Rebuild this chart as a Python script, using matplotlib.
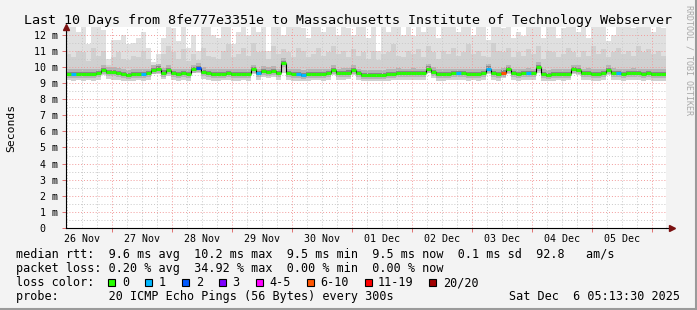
import numpy as np
import matplotlib
matplotlib.use("Agg")
import matplotlib.pyplot as plt
from matplotlib.patches import Rectangle

# ---------------- data ----------------
# 2-hour bins, first bin starts at 05:36 on 26 Nov (hours since 26 Nov 00:00)
bin_start = 5.6
bin_hours = 2.0

median_rtt = [
    9.57, 9.57, 9.55, 9.57, 9.55, 9.57, 9.60, 9.80, 9.70, 9.68,
    9.63, 9.57, 9.52, 9.55, 9.57, 9.55, 9.60, 9.80, 9.90, 9.65,
    9.80, 9.60, 9.55, 9.60, 9.57, 9.85, 9.95, 9.70, 9.60, 9.57,
    9.55, 9.57, 9.60, 9.57, 9.55, 9.57, 9.55, 9.85, 9.60, 9.75,
    9.70, 9.75, 9.60, 10.25, 9.60, 9.57, 9.55, 9.52, 9.55, 9.57,
    9.57, 9.55, 9.60, 9.80, 9.60, 9.63, 9.65, 9.80, 9.60, 9.50,
    9.50, 9.52, 9.50, 9.52, 9.55, 9.57, 9.63, 9.60, 9.60, 9.63,
    9.60, 9.60, 9.90, 9.70, 9.57, 9.55, 9.57, 9.60, 9.60, 9.60,
    9.55, 9.57, 9.55, 9.60, 9.90, 9.60, 9.57, 9.65, 9.85, 9.60,
    9.57, 9.60, 9.63, 9.60, 10.00, 9.55, 9.50, 9.55, 9.57, 9.55,
    9.57, 9.85, 9.80, 9.60, 9.63, 9.57, 9.55, 9.60, 9.80, 9.63,
    9.60, 9.57, 9.60, 9.63, 9.60, 9.57, 9.60, 9.57, 9.55, 9.55,
]

smoke_top = [
    12.6, 12.6, 12.2, 12.6, 11.4, 12.6, 12.6, 12.3, 10.5, 11.7,
    11.7, 12.0, 11.4, 11.5, 11.8, 12.2, 11.2, 10.3, 10.8, 11.8,
    12.6, 12.4, 11.6, 12.6, 11.2, 12.0, 11.0, 12.6, 12.6, 12.0,
    11.8, 12.6, 12.6, 11.4, 12.2, 12.6, 12.0, 12.6, 12.2, 12.6,
    11.0, 12.6, 12.6, 12.0, 12.6, 12.6, 12.6, 12.4, 11.8, 12.6,
    12.6, 12.2, 12.6, 12.6, 12.0, 12.6, 12.4, 12.0, 12.6, 12.6,
    11.8, 12.6, 11.0, 12.6, 12.2, 12.6, 12.6, 12.0, 12.6, 11.9,
    12.6, 12.2, 12.6, 12.6, 11.8, 12.6, 12.6, 12.6, 12.2, 12.6,
    12.6, 12.0, 12.6, 12.6, 11.7, 12.6, 12.6, 12.4, 12.6, 11.8,
    12.2, 11.9, 12.6, 12.6, 12.6, 11.8, 12.6, 12.6, 11.8, 12.4,
    12.6, 12.6, 12.2, 12.6, 11.8, 12.6, 12.6, 12.6, 11.6, 12.0,
    12.6, 12.6, 12.6, 12.4, 12.6, 12.6, 12.6, 12.2, 12.6, 12.4,
]

smoke_mid = [
    10.8, 10.6, 11.0, 10.9, 10.4, 11.2, 10.7, 11.0, 10.1, 10.6,
    10.9, 10.5, 10.4, 10.7, 10.6, 11.0, 10.5, 10.1, 10.2, 10.8,
    11.3, 10.9, 10.5, 11.1, 10.4, 10.8, 10.4, 11.2, 10.7, 10.6,
    10.5, 11.0, 11.4, 10.6, 10.8, 11.2, 10.7, 11.5, 10.9, 11.0,
    10.5, 11.3, 10.8, 11.1, 10.9, 10.6, 11.2, 11.0, 10.6, 10.8,
    11.2, 10.7, 10.9, 11.3, 10.8, 11.0, 10.6, 11.1, 10.7, 10.9,
    10.5, 11.0, 10.4, 10.8, 10.9, 11.4, 10.7, 10.6, 11.0, 10.8,
    11.1, 10.6, 11.3, 10.9, 10.5, 11.0, 10.8, 11.2, 10.7, 10.9,
    11.4, 10.8, 11.0, 10.7, 10.6, 11.5, 11.0, 10.9, 11.2, 10.6,
    10.9, 10.7, 11.1, 10.8, 11.3, 10.5, 11.0, 10.9, 10.6, 10.8,
    11.2, 10.9, 10.6, 11.0, 10.7, 11.3, 10.8, 11.1, 10.6, 10.9,
    11.2, 10.8, 11.0, 10.7, 11.3, 10.9, 11.1, 10.8, 11.0, 10.7,
]

smoke_low = [
    9.20, 9.15, 9.20, 9.15, 9.20, 9.15, 9.20, 9.50, 9.25, 9.20,
    9.20, 9.15, 9.10, 9.15, 9.20, 9.15, 9.20, 9.55, 9.55, 9.25,
    9.45, 9.20, 9.15, 9.20, 9.15, 9.60, 9.60, 9.25, 9.20, 9.15,
    9.15, 9.20, 9.20, 9.15, 9.15, 9.20, 9.15, 9.55, 9.20, 9.35,
    9.30, 9.35, 9.20, 9.60, 9.20, 9.15, 9.15, 9.10, 9.15, 9.20,
    9.20, 9.15, 9.20, 9.50, 9.20, 9.20, 9.25, 9.50, 9.20, 9.10,
    9.10, 9.10, 9.10, 9.15, 9.15, 9.20, 9.20, 9.20, 9.20, 9.20,
    9.20, 9.20, 9.60, 9.30, 9.15, 9.15, 9.20, 9.20, 9.20, 9.20,
    9.15, 9.20, 9.15, 9.20, 9.55, 9.20, 9.15, 9.30, 9.55, 9.20,
    9.15, 9.20, 9.20, 9.20, 9.60, 9.15, 9.10, 9.15, 9.20, 9.15,
    9.20, 9.55, 9.50, 9.20, 9.20, 9.15, 9.15, 9.20, 9.50, 9.20,
    9.20, 9.15, 9.20, 9.20, 9.20, 9.15, 9.20, 9.15, 9.15, 9.15,
]

# bins where some pings were lost (index -> lost pings of 20)
loss_bins = [1, 15, 26, 38, 46, 47, 78, 84, 87, 92, 110]
loss_counts = [1, 1, 2, 1, 1, 1, 1, 1, 6, 1, 1]

loss_labels = ["0", "1", "2", "3", "4-5", "6-10", "11-19", "20/20"]
loss_colors = ["#26ff00", "#00b8ff", "#0059ff", "#7e00ff",
               "#ff00ff", "#ff5500", "#ff0000", "#a10000"]

day_labels = ["26 Nov", "27 Nov", "28 Nov", "29 Nov", "30 Nov",
              "01 Dec", "02 Dec", "03 Dec", "04 Dec", "05 Dec"]

title = "Last 10 Days from 8fe777e3351e to Massachusetts Institute of Technology Webserver"
line_rtt = "median rtt:  9.6 ms avg  10.2 ms max  9.5 ms min  9.5 ms now  0.1 ms sd  92.8   am/s"
line_loss = "packet loss: 0.20 % avg  34.92 % max  0.00 % min  0.00 % now"
line_probe = "probe:       20 ICMP Echo Pings (56 Bytes) every 300s"
stamp = "Sat Dec  6 05:13:30 2025"

# ---------------- config ----------------
W, H = 697, 310
MONO = "DejaVu Sans Mono"
BG = "#f3f3f3"
FS_LEGEND = 8.45
plt.rcParams["font.family"] = [MONO]


def fx(x):
    return x / W


def fy(y):
    return 1 - y / H


def loss_color(n):
    if n == 0:
        return loss_colors[0]
    if n <= 3:
        return loss_colors[n]
    if n <= 5:
        return loss_colors[4]
    if n <= 10:
        return loss_colors[5]
    if n <= 19:
        return loss_colors[6]
    return loss_colors[7]


fig = plt.figure(figsize=(W / 100, H / 100), dpi=100, facecolor=BG)
ax = fig.add_axes([fx(66), fy(228), fx(600), 201 / H])
ax.set_facecolor("white")

n = len(median_rtt)
left = bin_start + bin_hours * np.arange(n)
med = np.array(median_rtt)
top = np.array(smoke_top)
mid = np.array(smoke_mid)
low = np.array(smoke_low)

# smoke layers, outer -> inner
ax.bar(left, top - low, bottom=low, width=bin_hours, align="edge",
       color="#e0e0e0", linewidth=0, zorder=1)
ax.bar(left, mid - low, bottom=low, width=bin_hours, align="edge",
       color="#d0d0d0", linewidth=0, zorder=1.1)
ax.bar(left, 0.55, bottom=med - 0.25, width=bin_hours, align="edge",
       color="#b4b4b4", linewidth=0, zorder=1.2)
ax.bar(left, 0.25, bottom=med - 0.12, width=bin_hours, align="edge",
       color="#888888", linewidth=0, zorder=1.3)

# grid
for v in np.arange(0.5, 12.5, 1.0):
    ax.axhline(v, color="#c8c8c8", lw=0.7, ls=(0, (1, 2)), zorder=2)
for v in range(1, 13):
    ax.axhline(v, color="#f29a9a", lw=0.7, ls=(0, (1, 2)), zorder=2.1)
for h in np.arange(6, 246, 6):
    if h % 24:
        ax.axvline(h, color="#c8c8c8", lw=0.7, ls=(0, (1, 2)), zorder=2)
for d in range(1, 11):
    ax.axvline(24 * d, color="#f29a9a", lw=0.7, ls=(0, (1, 2)), zorder=2.1)

# median line coloured by loss
colors = [loss_colors[0]] * n
for b, c in zip(loss_bins, loss_counts):
    colors[b] = loss_color(c)
ax.vlines(left[1:], med[:-1], med[1:], color="black", lw=0.8, zorder=3)
ax.hlines(med, left, left + bin_hours, colors=colors, lw=2.2, zorder=4)

ax.set_xlim(bin_start, bin_start + bin_hours * n)
ax.set_ylim(0, 12.48)

for s in ["top", "right"]:
    ax.spines[s].set_visible(False)
for s in ["left", "bottom"]:
    ax.spines[s].set_color("black")
    ax.spines[s].set_linewidth(0.8)
    ax.spines[s].set_zorder(5)

ax.set_yticks(range(0, 13))
ax.set_yticklabels(["0  "] + [f"{v} m" for v in range(1, 13)])
ax.tick_params(axis="y", length=3, width=0.7, color="#e07070", pad=2.7,
               labelsize=7.2, labelcolor="black")
ax.set_xticks([24 * d for d in range(1, 11)])
ax.set_xticklabels([])
ax.set_xticks([12 + 24 * d for d in range(10)], minor=True)
ax.set_xticklabels(day_labels, minor=True)
ax.tick_params(axis="x", which="major", length=3, width=0.7, color="#e07070")
ax.tick_params(axis="x", which="minor", length=0, pad=4.5, labelsize=7.2)
ax.tick_params(axis="y", which="minor", length=0)

# axis arrows
ax.plot([0], [1.0], marker="^", ms=4, color="#7a1010", transform=ax.transAxes,
        clip_on=False, zorder=6)
ax.plot([1.0, 1.01], [0, 0], color="black", lw=0.8, transform=ax.transAxes,
        clip_on=False, zorder=5)
ax.plot([1.01], [0], marker=">", ms=4, color="#7a1010", transform=ax.transAxes,
        clip_on=False, zorder=6)

# texts
fig.text(fx(348), fy(24), title, fontsize=9.6, ha="center", va="baseline")
fig.text(fx(11), fy(127.5), "Seconds", fontsize=8.2, rotation=90,
         ha="center", va="center")
fig.text(fx(689), fy(5), "RRDTOOL / TOBI OETIKER", fontsize=6.0, rotation=-90,
         ha="center", va="top", color="#a8a8a8")

fig.text(fx(16), fy(258), line_rtt, fontsize=FS_LEGEND, va="baseline")
fig.text(fx(16), fy(272), line_loss, fontsize=FS_LEGEND, va="baseline")
fig.text(fx(16), fy(286), "loss color:", fontsize=FS_LEGEND, va="baseline")
fig.text(fx(16), fy(300), line_probe, fontsize=FS_LEGEND, va="baseline")
fig.text(fx(680), fy(300), stamp, fontsize=FS_LEGEND, va="baseline", ha="right")

# loss colour legend boxes
x = 108.3
cell = 6.94
for lab, col in zip(loss_labels, loss_colors):
    fig.patches.append(Rectangle((fx(x), fy(285.7)), fx(7), 7 / H,
                                 transform=fig.transFigure, facecolor=col,
                                 edgecolor="black", linewidth=0.8))
    fig.text(fx(x + 13.5), fy(286), lab, fontsize=FS_LEGEND, va="baseline")
    x += 13.5 + len(lab) * cell + 16.5

# frame shadow
fig.add_artist(plt.Line2D([fx(0), fx(696)], [fy(309), fy(309)],
                          color="#9a9a9a", lw=1.5, transform=fig.transFigure))
fig.add_artist(plt.Line2D([fx(696), fx(696)], [fy(0), fy(309)],
                          color="#9a9a9a", lw=1.5, transform=fig.transFigure))

fig.savefig("out.png", dpi=100, facecolor=BG)
